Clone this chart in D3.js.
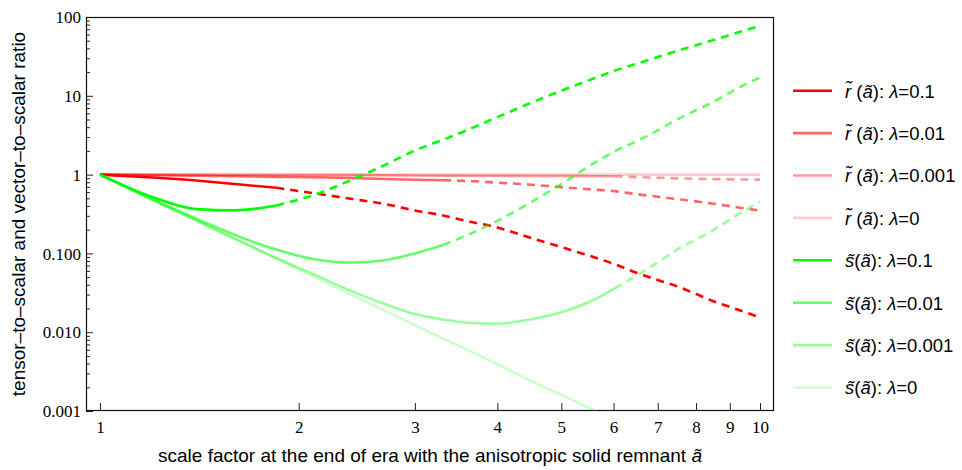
<!DOCTYPE html>
<html>
<head>
<meta charset="utf-8">
<script src="https://cdn.jsdelivr.net/npm/d3@7"></script>
<style>
body { margin: 0; background: #fff; }
text { fill: #000; }
</style>
</head>
<body>
<div id="chart"></div>
<script>
var aGrid = [1, 1.2, 1.4, 1.6, 1.85, 2.1, 2.4, 2.7, 3, 3.31, 3.6, 4, 4.5, 5, 5.5, 6.02,
             6.5, 7, 7.5, 8, 8.5, 9, 9.5, 10];

var lambdas = ["0.1", "0.01", "0.001", "0"];
// solid up to here, dashed after (lambda = 0 stays solid)
var breakA = [1.85, 3.31, 6.02, null];

// tensor-to-scalar ratio r~
var rL1   = [1, 0.92, 0.84, 0.76, 0.68, 0.583, 0.493, 0.424, 0.351, 0.303, 0.257, 0.213, 0.157, 0.12,
             0.094, 0.073, 0.0568, 0.0459, 0.038, 0.0305, 0.0247, 0.0209, 0.0179, 0.0154];
var rL2   = [1, 0.981, 0.965, 0.952, 0.937, 0.925, 0.905, 0.88, 0.862, 0.847, 0.83, 0.79, 0.745, 0.694,
             0.652, 0.617, 0.565, 0.524, 0.488, 0.457, 0.427, 0.398, 0.371, 0.35];
var rL3   = [1, 0.998, 0.995, 0.992, 0.99, 0.987, 0.984, 0.98, 0.976, 0.971, 0.968, 0.965, 0.961, 0.958,
             0.955, 0.951, 0.93, 0.912, 0.896, 0.884, 0.875, 0.869, 0.866, 0.864];
var rL4   = [1, 1, 1, 1, 1, 1, 1, 1, 1, 1, 1, 1, 1, 1, 1, 1, 1, 1, 1, 1, 1, 1, 1, 1];

// vector-to-scalar ratio s~
var sL1   = [1, 0.52, 0.365, 0.352, 0.405, 0.545, 0.85, 1.32, 2.02, 2.77, 3.67, 5.36, 8.17, 11.6,
             15.7, 20.8, 25.5, 31, 37.3, 43.8, 51, 59, 67.9, 77];
var sL2   = [1, 0.487, 0.275, 0.172, 0.112, 0.085, 0.0765, 0.082, 0.10, 0.128, 0.17, 0.259, 0.446, 0.76,
             1.27, 1.97, 2.65, 3.64, 5.05, 6.55, 8.4, 11, 14, 17];
var sL3   = [1, 0.482, 0.261, 0.154, 0.0875, 0.055, 0.0335, 0.0228, 0.017, 0.0145, 0.0132, 0.0128, 0.0146, 0.0179,
             0.024, 0.0357, 0.0525, 0.0769, 0.113, 0.150, 0.198, 0.268, 0.355, 0.455];
var sL4   = [1, 0.482, 0.26, 0.153, 0.0854, 0.0514, 0.030, 0.0188, 0.0123, 0.0083, 0.0060, 0.0039, 0.0024, 0.0016,
             0.0011, 0.00076, null, null, null, null, null, null, null, null];

var xTicks = [1, 2, 3, 4, 5, 6, 7, 8, 9, 10];
var yTicks = [0.001, 0.01, 0.1, 1, 10, 100];
var yTickLabels = ["0.001", "0.010", "0.100", "1", "10", "100"];

var W = 962, H = 470;
var frame = { left: 86, right: 774, top: 17, bottom: 411 };
var serif = "'Liberation Serif', 'Times New Roman', Times, serif";
var sans = "'Liberation Sans', Arial, sans-serif";

var svg = d3.select("#chart").append("svg")
    .attr("width", W)
    .attr("height", H);

var x = d3.scaleLog().domain([1, 10]).range([100, 760]);
var y = d3.scaleLog().domain([0.001, 100]).range([frame.bottom, frame.top]);

svg.append("clipPath").attr("id", "plotclip")
    .append("rect")
    .attr("x", frame.left).attr("y", frame.top)
    .attr("width", frame.right - frame.left)
    .attr("height", frame.bottom - frame.top);

// minor y ticks (2..9 in every decade)
var minorY = [];
yTicks.slice(0, -1).forEach(function(d){
    for (var k = 2; k <= 9; k++) minorY.push(d * k);
});

var yMinor = d3.axisLeft(y).tickValues(minorY).tickSize(-4).tickFormat("");
svg.append("g").attr("transform", "translate(" + frame.left + ",0)")
    .call(yMinor).call(function(g){ g.select(".domain").remove(); });

var yAxis = d3.axisLeft(y).tickValues(yTicks).tickSize(-7).tickPadding(5)
    .tickFormat(function(d, i){ return yTickLabels[i]; });
svg.append("g").attr("transform", "translate(" + frame.left + ",0)")
    .call(yAxis)
    .call(function(g){
        g.select(".domain").remove();
        g.attr("font-family", null).attr("font-size", null);
        g.selectAll("text")
            .style("font-family", serif)
            .style("font-size", "17px")
            .attr("dy", "0.33em");
    });

var xAxis = d3.axisBottom(x).tickValues(xTicks).tickSize(-8).tickPadding(10)
    .tickFormat(d3.format("d"));
svg.append("g").attr("transform", "translate(0," + frame.bottom + ")")
    .call(xAxis)
    .call(function(g){
        g.select(".domain").remove();
        g.attr("font-family", null).attr("font-size", null);
        g.selectAll("text")
            .style("font-family", serif)
            .style("font-size", "17px");
    });

svg.selectAll(".tick line").attr("stroke", "#222");

// frame
svg.append("rect")
    .attr("x", frame.left + 0.5).attr("y", frame.top + 0.5)
    .attr("width", frame.right - frame.left - 1)
    .attr("height", frame.bottom - frame.top - 1)
    .attr("fill", "none")
    .attr("stroke", "#111")
    .attr("stroke-width", 1.2);

// series
var opac = [1, 0.6, 0.4, 0.2];
var series = [];
[rL1, rL2, rL3, rL4].forEach(function(v, i){
    series.push({ name: "r", lam: lambdas[i], color: "#ff0000", op: opac[i], br: breakA[i], vals: v });
});
[sL1, sL2, sL3, sL4].forEach(function(v, i){
    series.push({ name: "s", lam: lambdas[i], color: "#00ff00", op: opac[i], br: breakA[i], vals: v });
});

var line = d3.line()
    .defined(function(d){ return d.v != null; })
    .x(function(d){ return x(d.a); })
    .y(function(d){ return y(d.v); })
    .curve(d3.curveMonotoneX);

var plot = svg.append("g").attr("clip-path", "url(#plotclip)");

series.forEach(function(s){
    var pts = aGrid.map(function(a, i){ return { a: a, v: s.vals[i] }; });
    var solid = s.br == null ? pts : pts.filter(function(d){ return d.a <= s.br; });
    var dashed = s.br == null ? [] : pts.filter(function(d){ return d.a >= s.br; });

    plot.append("path")
        .datum(solid)
        .attr("d", line)
        .attr("fill", "none")
        .attr("stroke", s.color)
        .attr("stroke-opacity", s.op)
        .attr("stroke-width", 2.6);

    if (dashed.length) {
        plot.append("path")
            .datum(dashed)
            .attr("d", line)
            .attr("fill", "none")
            .attr("stroke", s.color)
            .attr("stroke-opacity", s.op)
            .attr("stroke-width", 2.6)
            .attr("stroke-dasharray", "8,6");
    }
});

// legend
var legend = svg.append("g")
    .style("font-family", sans)
    .style("font-size", "18.5px");

series.forEach(function(s, i){
    var ly = 90.7 + i * 42.4;
    legend.append("line")
        .attr("x1", 793).attr("x2", 832)
        .attr("y1", ly).attr("y2", ly)
        .attr("stroke", s.color)
        .attr("stroke-opacity", s.op)
        .attr("stroke-width", 2.6);

    var t = legend.append("text").attr("x", 845).attr("y", ly + 6.8);
    t.append("tspan").attr("font-style", "italic").text(s.name + "\u0303");
    t.append("tspan").text(s.name == "r" ? " (" : "(");
    t.append("tspan").attr("font-style", "italic").text("\u00e3");
    t.append("tspan").text("): ");
    t.append("tspan").attr("font-style", "italic").text("\u03bb");
    t.append("tspan").text("=" + s.lam);
});

// axis titles
svg.append("text")
    .attr("x", (frame.left + frame.right) / 2)
    .attr("y", 462)
    .attr("text-anchor", "middle")
    .style("font-family", sans)
    .style("font-size", "19px")
    .call(function(t){
        t.append("tspan").text("scale factor at the end of era with the anisotropic solid remnant ");
        t.append("tspan").attr("font-style", "italic").text("\u00e3");
    });

svg.append("text")
    .attr("transform", "translate(25," + ((frame.top + frame.bottom) / 2) + ") rotate(-90)")
    .attr("text-anchor", "middle")
    .style("font-family", sans)
    .style("font-size", "19px")
    .text("tensor\u2013to\u2013scalar and vector\u2013to\u2013scalar ratio");
</script>
</body>
</html>
